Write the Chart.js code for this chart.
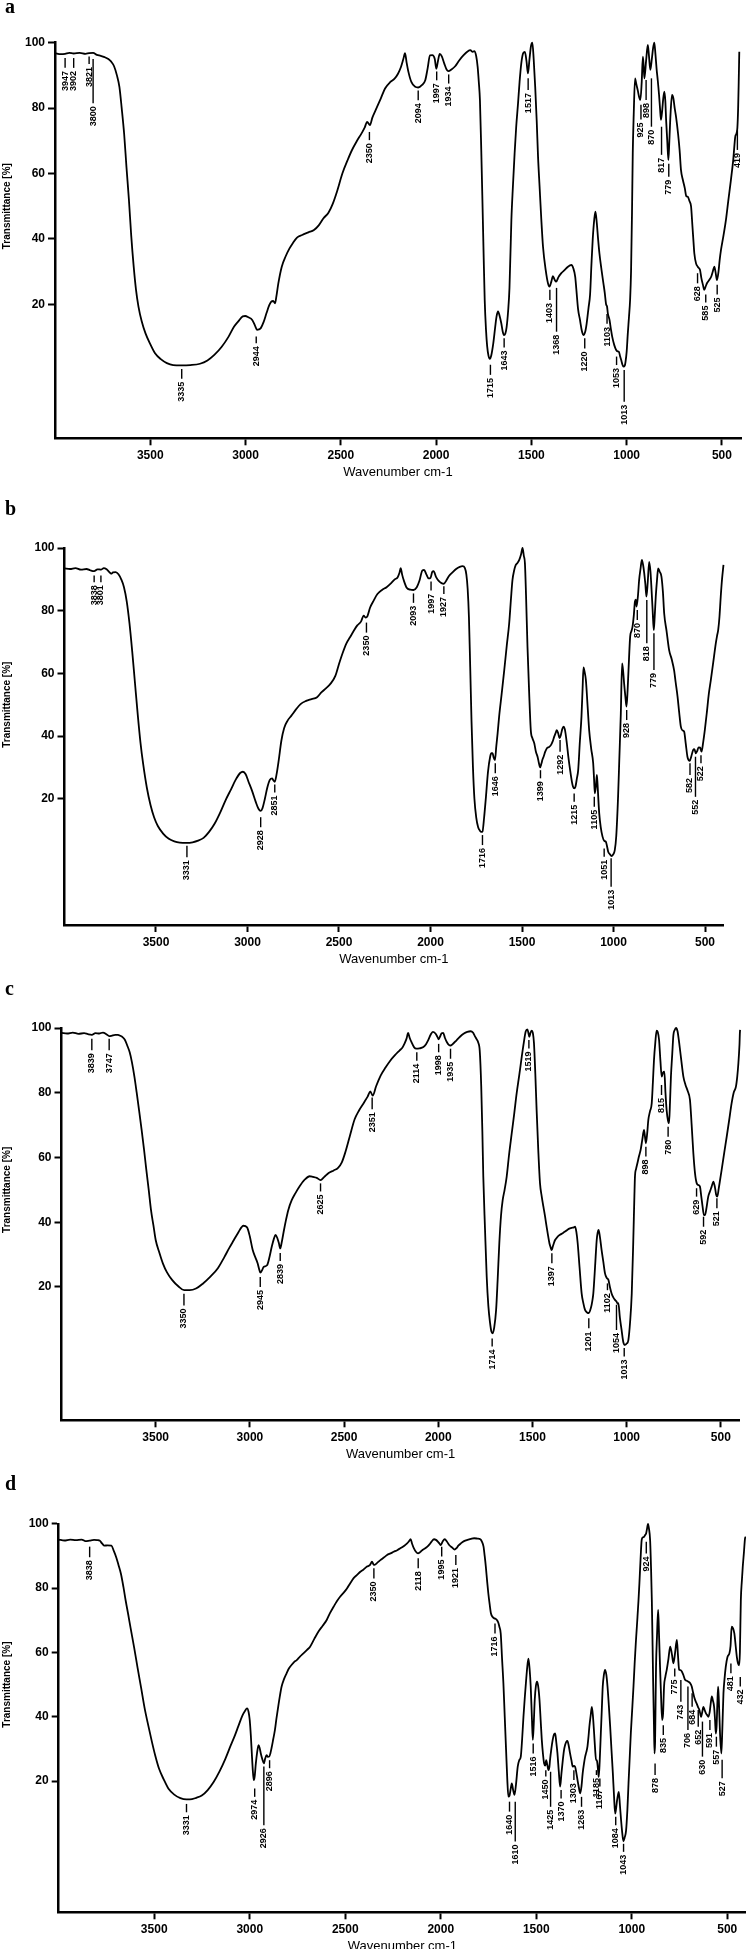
<!DOCTYPE html>
<html>
<head>
<meta charset="utf-8">
<script src="https://cdn.jsdelivr.net/npm/chart.js@4.4.0/dist/chart.umd.min.js"></script>
<style>
  html, body { margin: 0; padding: 0; background: #fff; overflow: hidden; }
  canvas { position: absolute; left: 0; }
</style>
</head>
<body>
<canvas id="pa" width="746" height="495" style="top:0px"></canvas>
<canvas id="pb" width="746" height="493" style="top:487px"></canvas>
<canvas id="pc" width="746" height="493" style="top:972px"></canvas>
<canvas id="pd" width="746" height="492" style="top:1457px"></canvas>
<script>
// tick values shared by all four spectra
const xTicks = [3500, 3000, 2500, 2000, 1500, 1000, 500];
const yTicks = [20, 40, 60, 80, 100];

// [wavenumber, transmittance %]
const specA = [[4000,96.8],[3970,96.5],[3947,96.6],[3925,96.9],[3902,96.7],[3870,96.9],[3840,96.6],[3821,96.8],[3800,96.9],[3780,96.3],[3760,96.0],[3740,95.6],[3720,95.0],[3705,94.2],[3690,92.8],[3675,90.0],[3662,86.5],[3650,80],[3637,72],[3625,62],[3612,51.9],[3600,41],[3587,31.5],[3575,24.5],[3562,19.3],[3545,14.8],[3525,11.1],[3500,7.8],[3475,5],[3445,3.2],[3413,2],[3380,1.4],[3338,1.3],[3290,1.4],[3239,1.8],[3200,2.8],[3164,4.5],[3125,7],[3089,10.1],[3060,13.2],[3039,14.7],[3015,16.3],[3002,16.4],[2985,16.0],[2965,15.2],[2950,13.4],[2940,12.2],[2930,12.3],[2920,12.7],[2905,14.6],[2890,17.3],[2875,19.8],[2865,20.8],[2855,21.0],[2845,20.3],[2838,22.5],[2828,26.4],[2810,31.5],[2790,34.6],[2770,37],[2753,38.6],[2730,40.4],[2703,41.2],[2670,42],[2641,42.7],[2615,44.2],[2591,46.3],[2565,48],[2542,50.8],[2520,54.5],[2492,60],[2465,64],[2442,67.1],[2415,70],[2392,72.2],[2375,74],[2362,75.8],[2347,74.8],[2335,77],[2318,79.3],[2290,83],[2268,86],[2240,88],[2218,89],[2200,90.5],[2185,92.5],[2172,95],[2163,96.8],[2155,94],[2145,91],[2130,88],[2110,86.5],[2094,86.3],[2075,87],[2057,88.5],[2045,92],[2032,96.1],[2020,96.2],[2007,95],[1999,92],[1990,94.5],[1981,96.6],[1970,95.8],[1957,93.6],[1945,91.8],[1935,91.3],[1920,91.8],[1900,92.8],[1880,94.5],[1857,96.1],[1835,97.3],[1820,97.7],[1808,97.2],[1800,97.4],[1790,96],[1782,92.6],[1776,88],[1770,82.4],[1763,67],[1757,51.9],[1751,36],[1745,21.3],[1738,12],[1732,7.1],[1725,4.2],[1718,3.3],[1710,4.5],[1700,8],[1690,13],[1683,16.2],[1675,17.8],[1667,16.5],[1658,14.2],[1650,11.5],[1644,10.6],[1637,11],[1630,13],[1622,18],[1615,25],[1605,45.8],[1597,56],[1588,66.2],[1580,74],[1570,81.5],[1562,88],[1553,93.7],[1543,96.8],[1534,97.2],[1526,94.5],[1518,90.6],[1510,95],[1502,99],[1495,100],[1488,95],[1480,86.5],[1472,76],[1465,65],[1457,56],[1448,46],[1439,37.6],[1425,30.5],[1413,26.4],[1405,25.4],[1395,27],[1387,28.6],[1378,27.5],[1370,26.9],[1358,28.3],[1343,29.5],[1325,30.5],[1308,31.5],[1290,32],[1280,31],[1270,28.4],[1264,24.5],[1255,18.5],[1245,15.2],[1235,11.8],[1227,10.6],[1218,11.5],[1210,14.1],[1200,19],[1192,23],[1185,32],[1178,40],[1170,46],[1164,48.3],[1157,45],[1150,40],[1143,35.6],[1132,30.5],[1122,26.4],[1115,23.5],[1108,20],[1103,19.3],[1099,17.3],[1090,15.2],[1083,12.5],[1076,10.1],[1065,7.5],[1055,6],[1048,5.6],[1041,5.5],[1035,4.2],[1029,3],[1022,1.5],[1017,0.9],[1010,1.2],[1006,2.4],[1000,5.5],[994,11.1],[988,16],[982,21.3],[977,30],[972,48],[968,66.3],[963,78],[956,89.1],[950,87.5],[942,85.5],[935,83.5],[928,82.5],[921,88],[915,95.7],[911,93],[907,89.1],[898,94.5],[889,99.3],[883,96],[876,91.7],[868,95],[861,98.5],[855,100],[849,96.5],[843,92],[837,88.6],[830,84],[825,80],[820,76.4],[814,79],[808,83],[802,85],[797,82],[793,76.4],[787,70],[781,64.1],[776,70],[770,78],[762,84],[755,83],[748,80],[741,77.4],[730,72],[722,67],[715,61.1],[705,58],[695,55.5],[687,53],[680,52.9],[670,51.5],[662,49.9],[655,44],[648,38],[645,35.6],[636,32.5],[627,31.5],[620,31],[615,30.5],[608,28],[600,26],[593,24.4],[585,25.5],[578,26.5],[567,27.4],[556,28.5],[548,30],[540,31.5],[534,30],[526,27.4],[518,30],[512,33.5],[505,36.6],[492,41],[479,45.8],[466,52],[453,58],[441,64],[430,71.3],[425,72],[419,74],[415,80],[412,88],[409,97.2]];

const specB = [[4000,93.5],[3970,93.3],[3940,93.6],[3910,93.1],[3880,93.3],[3860,92.9],[3838,92.6],[3820,93.2],[3801,93.1],[3785,93.6],[3770,93.2],[3755,92.3],[3745,91.8],[3735,92.2],[3720,92.3],[3705,91.6],[3690,90],[3675,87.5],[3660,83],[3645,76],[3630,67],[3615,57],[3600,47],[3585,38],[3570,31],[3550,23.5],[3530,18],[3510,14],[3490,11.3],[3460,8.8],[3430,7.2],[3400,6.4],[3370,6],[3331,5.9],[3300,6.1],[3270,6.6],[3240,7.5],[3210,9.4],[3180,12],[3150,15.5],[3120,19.5],[3090,23],[3065,26],[3040,28.2],[3025,28.6],[3010,27.8],[2995,25.5],[2975,22.5],[2955,19],[2940,16.8],[2928,16.1],[2918,17],[2905,20],[2892,23.5],[2878,26],[2865,26.5],[2858,25.8],[2851,25.4],[2842,27.5],[2830,32],[2815,38.5],[2800,42.5],[2780,45],[2760,46.5],[2735,48.5],[2710,50.2],[2680,51.2],[2650,51.8],[2620,52.4],[2595,54],[2570,55.3],[2545,56.8],[2520,59.2],[2500,63],[2480,66.5],[2460,69.5],[2440,71.5],[2420,73.5],[2400,75.3],[2380,76.5],[2365,78.4],[2355,77.8],[2345,78.2],[2330,81],[2310,83.3],[2290,85.3],[2265,86.6],[2240,87.5],[2215,88.8],[2195,90],[2180,90.6],[2170,92],[2163,93.6],[2155,91.5],[2145,89.5],[2130,87.3],[2110,86.7],[2093,86.6],[2075,87.5],[2060,89.6],[2045,92.8],[2035,93],[2022,91.5],[2010,90.3],[2000,90.5],[1990,92.4],[1983,92.6],[1970,90.8],[1955,89.5],[1940,88.8],[1927,88.6],[1915,89.5],[1900,91],[1880,92.2],[1860,93.3],[1840,94],[1825,94.2],[1812,93.6],[1804,91.5],[1797,87],[1790,78],[1783,62],[1776,45],[1768,30],[1760,20],[1750,14],[1740,11],[1730,9.8],[1722,9.4],[1716,9.5],[1707,14],[1697,20.6],[1686,28.5],[1674,33.4],[1667,34.5],[1661,34.5],[1655,33.2],[1648,32.3],[1640,37],[1633,41],[1625,46.2],[1611,53.5],[1597,61],[1583,69],[1570,76],[1560,84],[1552,89.8],[1543,92.8],[1534,94.6],[1525,95.2],[1515,96.2],[1505,98],[1497,100],[1490,97.5],[1484,95.1],[1478,85],[1470,68.5],[1461,54],[1452,41.9],[1443,39.3],[1433,37.7],[1424,35],[1415,33.4],[1408,31.5],[1401,30],[1394,31.2],[1388,32.5],[1382,33.4],[1373,35],[1364,36.1],[1352,36.5],[1342,37.1],[1333,38.2],[1324,39.8],[1316,41],[1310,41.9],[1302,40.8],[1295,39.3],[1287,40.5],[1280,42.2],[1273,43],[1266,42.2],[1255,37.7],[1246,33],[1237,29.1],[1227,25.3],[1221,23.8],[1215,23.3],[1208,23.8],[1200,26.5],[1193,29.1],[1184,38],[1175,46.2],[1169,55],[1164,61.9],[1158,60.5],[1151,57.9],[1142,50],[1133,41.9],[1122,36],[1111,31.3],[1106,26],[1102,21.7],[1096,24],[1091,27.6],[1087,24.5],[1082,19],[1078,15.3],[1070,11],[1060,7.9],[1050,6.5],[1042,6.3],[1036,5],[1029,3.1],[1020,2.3],[1011,1.7],[1002,2.2],[993,3.6],[985,8],[975,20.6],[968,33],[960,47.2],[953,63.2],[947,60.5],[942,56.8],[935,52.5],[929,49.4],[923,54.5],[918,61],[909,71.7],[902,73.5],[896,74.9],[889,78.5],[883,82.9],[878,83.5],[874,81.3],[866,85],[860,89.8],[852,93.5],[845,96.2],[838,94.5],[832,91.9],[826,88.5],[820,84.5],[813,89],[805,95.6],[798,92.5],[792,86.6],[786,80],[780,73.8],[775,78],[769,84.5],[762,90],[756,93.5],[748,92.5],[738,90.9],[730,86],[723,79.1],[710,73.5],[696,67.4],[682,64.5],[669,61],[660,57],[650,52.6],[641,47.5],[632,43],[623,41.8],[614,41.4],[605,37.5],[596,33.4],[589,32.3],[583,32.1],[575,33.5],[565,35.5],[558,35.8],[550,34.5],[543,35.2],[535,36.4],[527,36.3],[519,35],[510,38],[501,41.9],[490,47.5],[479,53.5],[468,57.9],[455,63.5],[441,69.6],[434,72],[428,73.8],[421,78],[414,84.5],[407,90],[399,94.6]];

const specC = [[4000,98.5],[3970,98.3],[3940,98.6],[3910,98.2],[3880,98.4],[3860,98.1],[3839,97.9],[3820,98.4],[3800,98.3],[3780,98.6],[3760,98.0],[3747,97.5],[3735,97.6],[3715,97.9],[3700,97.9],[3688,97.6],[3676,97.2],[3663,96.3],[3651,94.6],[3638,92.5],[3626,89.4],[3613,85],[3601,80.1],[3588,74.5],[3575,68.7],[3562,62.5],[3550,56.3],[3537,50],[3525,43.8],[3512,39],[3500,34.5],[3480,30.5],[3462,27.3],[3440,24.5],[3412,22.1],[3380,20.2],[3349,19],[3320,19],[3286,19.5],[3250,21],[3211,23.1],[3170,25.8],[3135,29.3],[3110,32],[3085,34.5],[3060,37],[3045,38.4],[3035,38.9],[3015,38.4],[3000,35.5],[2985,31.4],[2970,29],[2959,27.3],[2950,25.3],[2944,24.4],[2935,25.2],[2927,26.2],[2909,26.7],[2895,29.5],[2884,32.4],[2872,35],[2864,36.1],[2855,35.2],[2846,33.5],[2839,31.9],[2832,33.5],[2819,37.6],[2808,40.8],[2796,43.8],[2778,46.8],[2758,49],[2735,51.2],[2708,53.2],[2683,54.2],[2665,54],[2645,53.7],[2625,53],[2605,54],[2582,55.2],[2555,56],[2532,56.8],[2512,58.5],[2494,61.5],[2470,66.5],[2444,71.8],[2420,74.6],[2394,77],[2375,78.8],[2361,80.4],[2348,79.1],[2330,82],[2306,85.3],[2280,87.8],[2255,89.9],[2230,91.6],[2205,93.1],[2190,94],[2180,95.1],[2168,96.8],[2160,98.5],[2152,97],[2142,95.6],[2128,94],[2117,93.6],[2100,93.7],[2079,94.1],[2065,95],[2054,96.2],[2040,98],[2029,98.8],[2015,98.3],[2004,97.2],[1998,96.5],[1991,97.3],[1982,98.4],[1974,98.5],[1965,97],[1954,95.6],[1944,94.8],[1934,94.6],[1920,95.2],[1903,96.2],[1885,97.3],[1866,98.2],[1846,98.8],[1828,99],[1816,98.6],[1806,97.5],[1796,96.5],[1788,95.5],[1780,93],[1772,82],[1766,68],[1761,54],[1752,38],[1743,23.2],[1734,14],[1725,8.8],[1718,6.2],[1711,5.7],[1703,7.5],[1693,12.9],[1685,22],[1676,33.5],[1667,42],[1658,46.9],[1648,50],[1637,54],[1624,61],[1610,67.5],[1597,73.5],[1584,79.8],[1570,85.5],[1557,91.1],[1546,95.5],[1536,98.9],[1527,99.6],[1522,98.6],[1517,97.3],[1510,98.6],[1504,99.2],[1498,98.5],[1492,95.3],[1485,86],[1478,74.7],[1469,62],[1460,52],[1451,48],[1442,44.8],[1433,41.7],[1425,38.6],[1417,35.8],[1410,33.5],[1404,32.3],[1398,31.4],[1392,32.5],[1386,33.6],[1380,34.5],[1367,35.5],[1354,36.1],[1340,36.6],[1327,37.1],[1314,37.7],[1301,38.1],[1288,38.3],[1280,38.4],[1274,38.6],[1267,37],[1260,33.5],[1250,26],[1239,18],[1230,15],[1221,12.9],[1210,12.1],[1201,11.9],[1190,13.5],[1182,15.8],[1177,18],[1168,26],[1159,34.5],[1154,36.8],[1149,37.6],[1142,35.5],[1133,31.4],[1124,27.8],[1115,24.2],[1106,22.8],[1097,22.2],[1089,20],[1080,18],[1071,16.8],[1062,16],[1054,15.5],[1048,14.8],[1044,15],[1036,10.5],[1027,6.7],[1018,3],[1009,2.1],[1000,2.5],[991,3.6],[982,9],[973,18],[965,34],[959,48],[956,54],[950,56.5],[943,58.2],[935,60.3],[926,62.3],[917,65.5],[908,68.5],[903,66.5],[898,64.4],[891,67.5],[885,71.6],[876,74.3],[867,76.7],[861,83],[855,90.1],[848,95.5],[841,99.2],[835,98.8],[828,96.3],[821,90],[814,85],[807,86.2],[800,86.5],[794,80],[788,74.7],[781,71.5],[775,70.6],[770,77],[765,85],[758,92],[752,97.8],[745,99.4],[738,100],[730,99],[721,95.3],[710,90],[699,85],[688,82.5],[676,80.5],[664,77.8],[655,70],[646,61.3],[637,55],[628,52],[620,51.5],[611,51],[604,48],[597,44.8],[590,42.2],[584,42.2],[576,44.5],[567,47.9],[558,49.5],[549,51],[540,52.5],[532,51],[525,48.5],[519,47.9],[511,50.5],[503,53.5],[496,56.1],[482,61.5],[469,66.4],[456,71.5],[443,76.7],[432,80],[420,81.9],[413,85],[407,89.1],[401,95],[398,99.4]];

const specD = [[4000,95.1],[3970,94.8],[3940,95.1],[3910,94.9],[3880,95.1],[3860,94.6],[3838,94.8],[3815,95],[3795,94.9],[3786,94.8],[3772,93.8],[3761,93.2],[3745,93.3],[3724,93.2],[3711,91.5],[3699,89.6],[3687,87.2],[3674,84.4],[3661,80.3],[3649,76],[3636,71.8],[3624,67.7],[3605,61.5],[3587,55.2],[3568,48.8],[3550,42.6],[3530,37],[3512,32.2],[3494,27.8],[3475,23.9],[3450,20.5],[3425,17.6],[3395,15.8],[3363,14.7],[3331,14.3],[3313,14.3],[3280,14.8],[3251,15.5],[3220,17.2],[3189,19.7],[3158,23],[3127,27],[3100,31],[3077,34.3],[3060,37],[3039,40.3],[3025,41.8],[3014,42.6],[3006,41.5],[3000,39],[2994,34],[2989,28.6],[2984,23.5],[2979,20.3],[2974,21.5],[2968,25.5],[2961,29],[2954,31.2],[2948,30.3],[2942,28.6],[2934,26.8],[2926,25.5],[2919,27],[2912,28.1],[2905,27.5],[2898,27.6],[2892,28.6],[2886,30.2],[2877,33],[2868,35.9],[2860,39.5],[2851,43.1],[2842,46.5],[2833,49.4],[2820,51.8],[2807,53.5],[2795,55],[2781,56.1],[2768,57],[2754,57.6],[2737,58.7],[2719,59.7],[2700,60.8],[2684,61.8],[2662,64.2],[2640,66.5],[2618,68.3],[2597,70.1],[2580,72.2],[2561,74.2],[2543,76],[2526,77.4],[2508,78.6],[2491,79.9],[2473,81.6],[2456,83.1],[2438,84.1],[2421,85.1],[2404,85.8],[2386,86.7],[2370,87.2],[2360,88.2],[2352,87.4],[2347,87.2],[2330,88],[2316,88.7],[2298,89.5],[2281,90.3],[2263,90.8],[2246,91.3],[2228,91.8],[2211,92.4],[2193,93.1],[2176,93.9],[2166,94.6],[2158,95.2],[2150,93.8],[2141,92.4],[2130,91.3],[2119,90.8],[2108,91.2],[2097,91.8],[2083,92.3],[2070,92.9],[2059,93.6],[2049,94.4],[2035,95.2],[2025,95],[2014,94.4],[2006,93.8],[2000,93.4],[1990,94.5],[1979,95.2],[1968,94.5],[1956,93.4],[1942,92.7],[1927,92],[1918,92.4],[1908,93.2],[1895,93.9],[1878,94.6],[1860,95],[1842,95.3],[1825,95.5],[1808,95.4],[1793,95.2],[1784,94.4],[1776,92.9],[1770,90],[1764,86.7],[1757,82],[1751,78.4],[1744,75],[1737,72.1],[1728,71],[1720,70.6],[1713,70.5],[1706,70.1],[1699,69.3],[1693,68],[1686,65.9],[1679,58],[1672,50.4],[1665,40],[1658,29.7],[1652,21],[1646,15.2],[1640,15.5],[1634,17.5],[1628,19.3],[1621,17.2],[1614,15.7],[1606,19],[1597,24.5],[1589,26.5],[1581,27.6],[1574,33],[1567,40],[1560,46],[1553,51.4],[1547,55.5],[1541,58.1],[1535,55],[1529,49.4],[1523,40],[1518,32.8],[1513,38],[1508,45.2],[1502,49.5],[1496,50.9],[1490,49.5],[1483,45.2],[1477,39],[1471,32.8],[1465,28.5],[1459,25.5],[1453,24.8],[1448,26.5],[1442,25],[1436,23.4],[1431,24.5],[1428,26.5],[1421,30],[1414,32.8],[1407,34.5],[1401,34.8],[1395,32],[1389,28.6],[1382,23],[1375,18.3],[1368,22.5],[1361,26.5],[1355,29.5],[1349,31.2],[1343,32.2],[1337,32.5],[1330,31],[1323,28.6],[1316,26.5],[1309,24.5],[1303,24.7],[1297,24.5],[1290,22.5],[1284,20.3],[1277,18],[1270,16.2],[1263,18.5],[1257,22.4],[1250,25.5],[1244,27.6],[1238,29],[1232,30.7],[1227,33.5],[1222,36.9],[1215,40.5],[1209,43.1],[1203,40],[1197,34.8],[1192,30],[1187,26.5],[1183,26.5],[1180,25.5],[1176,23],[1173,21.3],[1168,26],[1162,34.8],[1157,42],[1152,49.4],[1146,53],[1140,54.6],[1133,53],[1127,49.4],[1120,43.5],[1113,36.9],[1106,29.5],[1099,22.4],[1093,15.5],[1087,9.9],[1082,11.5],[1077,14],[1072,15.8],[1068,16.6],[1062,12.5],[1056,7.9],[1050,4],[1044,1.3],[1037,2.5],[1030,4.5],[1023,11],[1017,19.3],[1011,27],[1005,34.8],[998,42],[991,49.4],[985,56.5],[979,62.8],[975,66.5],[970,71.1],[965,76],[960,81.5],[954,89],[948,95],[942,95.8],[935,96],[930,96.5],[925,97],[920,98.5],[915,100],[910,98.5],[904,95],[899,86],[895,76.3],[891,62],[888,50.4],[884,38],[881,28.6],[878,32],[875,46],[873,55.5],[868,65],[862,73.2],[857,65],[852,55.5],[847,47],[841,39],[836,41],[831,49.4],[824,52.5],[817,54.6],[808,58],[799,61.8],[790,59.5],[782,56.6],[773,60],[764,63.9],[758,59],[752,54.6],[745,54.5],[738,54.1],[730,53],[721,51.5],[712,51.2],[703,50.9],[695,50.5],[686,49.4],[680,47.8],[674,46.3],[667,45],[660,44.1],[653,43],[646,42.1],[640,40.5],[637,40],[631,41.5],[625,43.1],[618,42],[611,41],[605,40.5],[599,40],[592,41.5],[587,44],[581,46.3],[575,45],[569,43.1],[564,39],[560,34.8],[556,37],[552,44],[548,49.4],[544,45],[538,34.8],[531,28.6],[526,36],[520,47.3],[514,52],[508,55.5],[499,58.6],[489,59.7],[483,62],[477,68],[470,67.5],[463,65.9],[456,62],[450,58.6],[444,56.6],[438,56],[434,60],[429,76.3],[424,82],[419,86.6],[413,91],[407,95.5],[403,96]];

// peak labels: [wavenumber, top of marker %, bottom of marker %]
const peaksA = [[3947,95.3,92.3],[3902,95.3,92.3],[3821,95.8,93.5],[3800,95,81.5],[3335,0.2,-2.8],[2944,10.1,8.1],[2350,72.7,70.2],[2094,85.4,82.4],[1997,91.2,88.5],[1934,90.3,87.5],[1715,1.5,-1.6],[1643,9.6,6.8],[1517,89.1,85.5],[1403,24.4,21.3],[1368,25,11.6],[1220,9.6,6.5],[1103,17,14],[1053,4,1.4],[1013,-0.1,-9.8],[925,81,76.5],[898,88.6,82.5],[870,89.1,74.3],[817,74.3,65.7],[779,63,59],[628,29.5,26.4],[585,23,20.5],[525,26,23],[419,73.3,67.2]];
const peaksB = [[3838,91.2,89.1],[3801,91.2,89.1],[3331,5,1.3],[2928,14.1,10.9],[2851,24.5,22],[2350,76.2,73],[2093,85.5,82.5],[1997,89.3,86.4],[1927,87.8,85.3],[1716,8.4,5.2],[1646,31.3,28.1],[1399,29.1,26.5],[1292,38.7,35],[1215,21.7,19],[1105,20.6,17.4],[1051,4.1,1.5],[1013,1,-8.1],[928,48.3,45.1],[870,80.2,77],[818,83.4,69.6],[779,72.8,61.1],[582,31.3,27.6],[552,33.4,20.6],[522,33.9,31.3]];
const peaksC = [[3839,96.7,93.1],[3747,96.7,93.1],[3350,17.9,14.3],[2945,23.1,20],[2839,30.5,28],[2625,52,49.5],[2351,78.5,74.9],[2114,92.5,89.9],[1998,95.1,92.5],[1935,93.6,90.5],[1519,96.3,93.7],[1714,4.1,1.6],[1397,30.4,27.3],[1201,10.3,7.2],[1102,21.1,19],[1054,14.5,6.7],[1013,1.1,-1.5],[898,63.3,60.3],[815,82.4,79.3],[780,69.5,66.4],[629,50.5,47.9],[592,41.7,38.6],[521,47.4,44.3]];
const peaksD = [[3838,92.9,89.6],[3331,12.9,10.3],[2974,17.7,15.1],[2926,24.5,6.3],[2896,26.5,24],[2350,86.2,83],[2118,89.3,86.2],[1995,92.9,89.8],[1921,90.3,87.2],[1716,69,65.9],[1640,13.6,10.5],[1610,13.6,1.2],[1516,31.7,28.6],[1450,23.4,21.4],[1425,22.9,12],[1370,17.2,14.6],[1303,23.4,20.3],[1263,15.1,12],[1185,23.4,21.9],[1167,20.8,18.3],[1084,8.9,6.3],[1043,0.5,-2],[924,94.4,90.8],[878,25.5,21.9],[835,37.4,34.3],[775,55,52.5],[743,51.4,44.7],[706,49.4,35.9],[684,47.3,43.1],[652,42.1,36.9],[630,38.5,27.6],[591,39,35.9],[557,33.8,30.7],[527,26.6,20.9],[481,56.6,53.5],[432,52.4,49.4]];

const SANS = '"Liberation Sans", Arial, sans-serif';

// peak markers, panel letter and axis titles
const decor = {
  id: 'decor',
  afterDatasetsDraw(chart, args, opts) {
    const ctx = chart.ctx, xs = chart.scales.x, ys = chart.scales.y, area = chart.chartArea;
    ctx.save();
    ctx.strokeStyle = '#000';
    ctx.fillStyle = '#000';
    ctx.lineWidth = 1.4;
    opts.peaks.forEach(([wn, top, bot]) => {
      const x = xs.getPixelForValue(wn);
      const y1 = ys.getPixelForValue(top), y2 = ys.getPixelForValue(bot);
      ctx.beginPath();
      ctx.moveTo(x, y1);
      ctx.lineTo(x, y2);
      ctx.stroke();
      ctx.save();
      ctx.translate(x, y2 + 3);
      ctx.rotate(-Math.PI / 2);
      ctx.font = 'bold 9px ' + SANS;
      ctx.textAlign = 'right';
      ctx.textBaseline = 'middle';
      ctx.fillText(String(wn), 0, 0);
      ctx.restore();
    });

    ctx.font = 'bold 20px "Liberation Serif", serif';
    ctx.textAlign = 'left';
    ctx.textBaseline = 'alphabetic';
    ctx.fillText(opts.letter, 5, opts.letterY);

    ctx.save();
    ctx.translate(7, ys.getPixelForValue(50));
    ctx.rotate(-Math.PI / 2);
    ctx.font = 'bold 10px ' + SANS;
    ctx.textAlign = 'center';
    ctx.textBaseline = 'middle';
    ctx.fillText('Transmittance [%]', 0, 0);
    ctx.restore();

    ctx.font = '13px ' + SANS;
    ctx.textAlign = 'center';
    ctx.textBaseline = 'middle';
    ctx.fillText('Wavenumber cm-1', (area.left + area.right) / 2, area.bottom + 34);
    ctx.restore();
  }
};

function panel(id, spec, peaks, letter, g) {
  const axisFont = { family: SANS, size: 12, weight: 'bold' };
  new Chart(document.getElementById(id), {
    type: 'line',
    data: {
      datasets: [{
        data: spec.map(p => ({ x: p[0], y: p[1] })),
        borderColor: '#000',
        borderWidth: 1.8,
        pointRadius: 0,
        fill: false,
        cubicInterpolationMode: 'monotone',
        clip: false
      }]
    },
    options: {
      responsive: false,
      animation: false,
      devicePixelRatio: 1,
      layout: { padding: { top: g.plotTop - g.top, right: 746 - g.right, left: 0, bottom: 0 } },
      plugins: {
        legend: { display: false },
        tooltip: { enabled: false },
        decor: { peaks: peaks, letter: letter, letterY: g.letterY }
      },
      scales: {
        x: {
          type: 'linear',
          reverse: true,
          min: g.xMin,
          max: 4000,
          afterBuildTicks: s => { s.ticks = xTicks.map(v => ({ value: v })); },
          afterFit: s => { s.height = g.top + g.height - g.plotBottom; },
          grid: { drawOnChartArea: false, drawTicks: true, tickLength: 7, tickWidth: 2, tickColor: '#000' },
          border: { display: true, color: '#000', width: 2.5 },
          ticks: { color: '#000', font: axisFont, padding: 3, maxRotation: 0, autoSkip: false, callback: v => String(v) }
        },
        y: {
          min: g.yMin,
          max: 100,
          afterBuildTicks: s => { s.ticks = yTicks.map(v => ({ value: v })); },
          afterFit: s => { s.width = g.left; },
          grid: { drawOnChartArea: false, drawTicks: true, tickLength: 7, tickWidth: 2, tickColor: '#000' },
          border: { display: true, color: '#000', width: 2.5 },
          ticks: { color: '#000', font: axisFont, padding: 3, autoSkip: false, callback: v => String(v) }
        }
      }
    },
    plugins: [decor]
  });
}

panel('pa', specA, peaksA, 'a', { top: 0, height: 495, left: 55, right: 741, plotTop: 42.7, plotBottom: 438.3, xMin: 400, yMin: -21, letterY: 13 });
panel('pb', specB, peaksB, 'b', { top: 487, height: 493, left: 64.5, right: 723.3, plotTop: 548, plotBottom: 925, xMin: 400, yMin: -20.3, letterY: 28 });
panel('pc', specC, peaksC, 'c', { top: 972, height: 493, left: 61.5, right: 739.7, plotTop: 1028, plotBottom: 1420.3, xMin: 400, yMin: -21.2, letterY: 23 });
panel('pd', specD, peaksD, 'd', { top: 1457, height: 492, left: 58.7, right: 746, plotTop: 1523.8, plotBottom: 1912.3, xMin: 402, yMin: -20.8, letterY: 33 });
</script>
</body>
</html>
